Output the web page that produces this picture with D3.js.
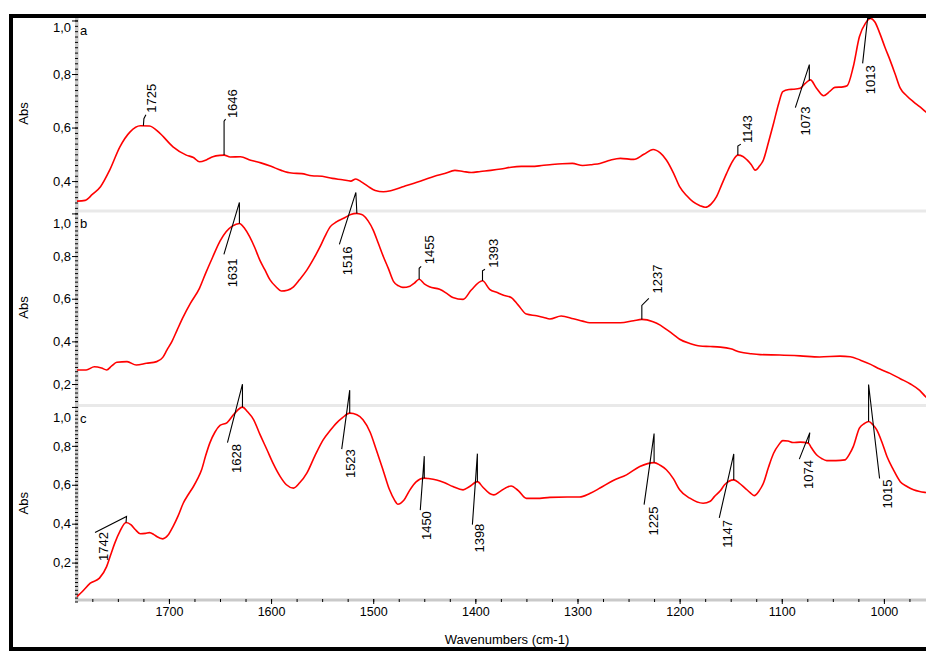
<!DOCTYPE html>
<html>
<head>
<meta charset="utf-8">
<script src="https://cdn.jsdelivr.net/npm/d3@7"></script>
<style>
body { margin: 0; background: #fff; }
svg { display: block; font-family: "Liberation Sans", Arial, sans-serif; }
</style>
</head>
<body>
<svg id="chart" width="926" height="652"></svg>
<script>
// spectrum a
const wnA = [1790,1782,1775,1767,1758,1748,1738,1728,1719,1709,1696,1683,1676,1670,1663,1657,1650,1646,1640,1630,
  1620,1610,1600,1590,1580,1570,1560,1550,1540,1530,1522,1517,1512,1505,1498,1490,1482,1470,1460,1450,
  1440,1430,1420,1412,1404,1395,1385,1375,1365,1355,1345,1335,1325,1315,1305,1295,1285,1278,1268,1258,
  1245,1235,1226,1219,1213,1206,1200,1193,1187,1180,1175,1169,1164,1159,1154,1148,1143,1138,1134,1130,
  1126,1122,1118,1113,1108,1103,1099,1093,1089,1082,1077,1072,1066,1059,1053,1048,1040,1036,1030,1024,
  1018,1013,1009,1004,999,994,989,984,978,971,965,959,950]
const absA = [0.325,0.328,0.350,0.379,0.441,0.528,0.584,0.607,0.606,0.579,0.528,0.497,0.488,0.472,0.480,0.491,0.496,0.497,0.490,0.491,
  0.478,0.468,0.455,0.440,0.430,0.428,0.420,0.418,0.410,0.405,0.400,0.408,0.398,0.380,0.365,0.360,0.365,0.380,0.392,0.405,
  0.418,0.428,0.440,0.436,0.432,0.436,0.440,0.445,0.452,0.455,0.455,0.458,0.462,0.465,0.466,0.458,0.462,0.466,0.478,0.485,
  0.481,0.500,0.518,0.505,0.479,0.430,0.379,0.345,0.323,0.308,0.302,0.315,0.341,0.385,0.429,0.475,0.497,0.492,0.479,0.462,
  0.441,0.455,0.479,0.545,0.616,0.690,0.734,0.742,0.743,0.747,0.765,0.778,0.747,0.719,0.735,0.750,0.752,0.756,0.827,0.939,
  0.990,1.008,0.995,0.952,0.900,0.852,0.800,0.747,0.720,0.696,0.678,0.659,0.640]

// spectrum b
const wnB = [1790,1781,1773,1766,1761,1756,1751,1741,1732,1722,1712,1706,1702,1697,1692,1686,1679,1670,1664,1657,
  1650,1644,1638,1631,1626,1621,1616,1611,1606,1601,1595,1590,1584,1578,1572,1565,1558,1552,1547,1542,
  1536,1529,1522,1516,1514,1510,1505,1500,1495,1490,1485,1480,1475,1471,1464,1460,1455,1450,1445,1435,
  1428,1422,1412,1404,1393,1386,1378,1373,1365,1358,1350,1340,1333,1327,1316,1304,1295,1288,1270,1258,
  1245,1237,1226,1219,1213,1206,1200,1190,1180,1170,1160,1150,1141,1130,1121,1102,1082,1063,1043,1033,
  1023,1013,1004,994,984,974,965,959,950]
const absB = [0.266,0.266,0.281,0.275,0.266,0.285,0.302,0.305,0.289,0.297,0.305,0.325,0.359,0.400,0.453,0.515,0.578,0.650,0.720,0.797,
  0.870,0.914,0.940,0.953,0.930,0.891,0.840,0.781,0.735,0.688,0.655,0.636,0.640,0.656,0.690,0.734,0.790,0.844,0.895,0.938,
  0.960,0.977,0.995,1.000,0.998,0.992,0.965,0.922,0.860,0.797,0.740,0.680,0.660,0.653,0.659,0.672,0.691,0.670,0.656,0.644,
  0.625,0.606,0.597,0.641,0.684,0.644,0.628,0.617,0.606,0.570,0.528,0.520,0.512,0.505,0.519,0.506,0.495,0.487,0.487,0.487,
  0.497,0.503,0.492,0.476,0.456,0.432,0.410,0.390,0.378,0.376,0.373,0.365,0.350,0.342,0.338,0.336,0.332,0.327,0.331,0.328,
  0.312,0.292,0.270,0.250,0.225,0.200,0.170,0.140,0.120]

// spectrum c
const wnC = [1790,1785,1777,1768,1761,1757,1753,1748,1742,1737,1733,1728,1723,1719,1715,1712,1706,1701,1696,1691,
  1686,1681,1676,1672,1668,1664,1660,1655,1650,1643,1636,1628,1623,1617,1611,1604,1598,1591,1585,1578,
  1572,1565,1557,1549,1542,1536,1530,1523,1516,1510,1503,1497,1490,1484,1479,1476,1470,1464,1458,1450,
  1446,1438,1430,1422,1412,1406,1398,1393,1386,1382,1376,1370,1365,1358,1350,1340,1327,1310,1298,1288,
  1278,1265,1252,1239,1225,1219,1213,1206,1200,1190,1177,1170,1166,1160,1156,1147,1142,1136,1131,1127,
  1122,1118,1113,1108,1103,1099,1094,1089,1082,1074,1071,1066,1061,1056,1047,1038,1034,1030,1024,1019,
  1015,1011,1007,1002,997,991,984,977,971,965,959,950]
const absC = [0.025,0.050,0.094,0.120,0.179,0.240,0.300,0.360,0.406,0.394,0.370,0.348,0.350,0.354,0.345,0.334,0.322,0.340,0.385,0.440,
  0.505,0.550,0.591,0.630,0.677,0.750,0.814,0.870,0.905,0.920,0.965,0.999,0.975,0.934,0.860,0.780,0.710,0.642,0.600,0.583,
  0.610,0.660,0.750,0.831,0.880,0.917,0.945,0.968,0.960,0.934,0.870,0.780,0.670,0.574,0.520,0.500,0.520,0.574,0.615,0.634,
  0.632,0.625,0.610,0.591,0.574,0.590,0.616,0.590,0.555,0.548,0.565,0.585,0.594,0.570,0.530,0.530,0.535,0.537,0.537,0.555,
  0.583,0.622,0.651,0.694,0.714,0.700,0.677,0.630,0.574,0.531,0.505,0.515,0.539,0.570,0.600,0.625,0.610,0.583,0.560,0.544,
  0.570,0.608,0.690,0.762,0.805,0.827,0.825,0.817,0.819,0.814,0.790,0.754,0.735,0.724,0.724,0.728,0.755,0.796,0.891,0.915,
  0.925,0.910,0.882,0.820,0.745,0.680,0.616,0.590,0.574,0.565,0.560,0.555]

// axis ticks
const xTicks = [1700, 1600, 1500, 1400, 1300, 1200, 1100, 1000]
const yTicks = [0.2, 0.4, 0.6, 0.8, 1.0]

// peak labels
const peakA = [1725, 1646, 1143, 1073, 1013]
const peakB = [1631, 1516, 1455, 1393, 1237]
const peakC = [1742, 1628, 1523, 1450, 1398, 1225, 1147, 1074, 1015]

// leader layout for each peak label: apex, tail, text point (px from the peak), text anchor
const leader = {
  1725: [[0.5, -7], [2.5, -11], [8.5, -13], 'start'],
  1646: [[0, -34], [1.5, -36], [8, -37], 'start'],
  1143: [[0, -9], [3, -11], [10, -12], 'start'],
  1073: [[0, -16], [-14, 27], [-4, 26], 'end'],
  1013: [[-3, 0], [-8, 45], [0, 47], 'end'],
  1631: [[0, -21], [-15.5, 31], [-6.5, 35], 'end'],
  1516: [[-1, -21], [-17.5, 31], [-9, 33], 'end'],
  1455: [[0, -11], [2, -13], [10, -15], 'start'],
  1393: [[0, -10], [2.5, -11.5], [11, -13], 'start'],
  1237: [[0, -14], [7, -21], [16, -26], 'start'],
  1742: [[0.5, -6], [-31, 10], [-23, 9.5], 'end'],
  1628: [[0, -23], [-15, 35.5], [-6.5, 37], 'end'],
  1523: [[0, -23], [-8, 36], [1, 36], 'end'],
  1450: [[0, -22], [-4, 32], [2, 33], 'end'],
  1398: [[0, -28], [-5, 43], [2, 42], 'end'],
  1225: [[0, -29], [-10, 42], [-1, 44], 'end'],
  1147: [[0, -26], [-14.5, 38], [-6, 40], 'end'],
  1074: [[1.5, -10.5], [-9, 16], [0, 17], 'end'],
  1015: [[0, -37], [11, 57], [19, 58], 'end']
}

const svg = d3.select('#chart')
const fmt = v => d3.format('.1f')(v).replace('.', ',')

let x = d3.scaleLinear()
  .domain([1790, 950])
  .range([77, 77 + 840 * 1.0214])

const panels = [
  { name: 'a', wn: wnA, abs: absA, peaks: peakA, domain: [0.292, 1.013], top: 17, bottom: 210, shift: 7 },
  { name: 'b', wn: wnB, abs: absB, peaks: peakB, domain: [0.1016, 1.016], top: 210, bottom: 405, shift: 10 },
  { name: 'c', wn: wnC, abs: absC, peaks: peakC, domain: [0, 1.01], top: 405, bottom: 601.5, shift: 10 }
]

// separators between the panels
svg.selectAll('rect.sep')
  .data([209.5, 404])
  .enter()
  .append('rect')
  .attr('class', 'sep')
  .attr('x', 77)
  .attr('y', d => d)
  .attr('width', 926 - 77)
  .attr('height', 3)
  .attr('fill', '#e9e9e9')

// gray axis bands
svg.append('rect')
  .attr('x', 75).attr('y', 17).attr('width', 3.5).attr('height', 601.5 - 17)
  .attr('fill', '#c9c9c9')
svg.append('rect')
  .attr('x', 75).attr('y', 598.5).attr('width', 926 - 75).attr('height', 3)
  .attr('fill', '#c9c9c9')

// value at a wavenumber
const valueAt = (wn, abs, w) => {
  for (let i = 0; i < wn.length - 1; i++) {
    if (w <= wn[i] && w >= wn[i + 1]) {
      let t = (wn[i] - w) / (wn[i] - wn[i + 1])
      return abs[i] + t * (abs[i + 1] - abs[i])
    }
  }
  return abs[abs.length - 1]
}

panels.forEach(p => {
  let y = d3.scaleLinear().domain(p.domain).range([p.bottom, p.top])
  let pts = p.wn.map((w, i) => [w, p.abs[i]])

  let line = d3.line()
    .x(d => x(d[0]))
    .y(d => y(d[1]))
    .curve(d3.curveMonotoneX)

  svg.append('path')
    .datum(pts)
    .attr('d', line)
    .attr('fill', 'none')
    .attr('stroke', '#ff0000')
    .attr('stroke-width', 1.6)

  // minor y ticks every 0.02
  let minor = d3.range(Math.ceil(p.domain[0] * 50), Math.floor(p.domain[1] * 50) + 1).map(k => k / 50)
  let gMinor = svg.append('g')
    .attr('transform', 'translate(78,0)')
    .call(d3.axisLeft(y).tickValues(minor).tickSize(3).tickFormat(''))
  gMinor.select('.domain').remove()
  gMinor.selectAll('line').attr('stroke', '#000')

  let majors = yTicks.filter(v => v >= p.domain[0] && v <= p.domain[1])
  let gMajor = svg.append('g')
    .attr('transform', 'translate(78,0)')
    .call(d3.axisLeft(y).tickValues(majors).tickSize(6).tickPadding(1).tickFormat(fmt))
  gMajor.select('.domain').remove()
  gMajor.selectAll('line').attr('stroke', '#000')
  gMajor.selectAll('text')
    .attr('font-size', 13)
    .attr('font-family', '"Liberation Sans", Arial, sans-serif')
    .attr('fill', '#000')
    .attr('y', d => d === 1.0 ? p.shift : 0)

  // panel letter
  svg.append('text')
    .attr('x', 80)
    .attr('y', p.top + 17.5)
    .attr('font-size', 13)
    .text(p.name)

  // Abs label
  svg.append('text')
    .attr('transform', `translate(23,${(p.top + p.bottom) / 2}) rotate(-90)`)
    .attr('text-anchor', 'middle')
    .attr('dy', '0.35em')
    .attr('font-size', 13)
    .text('Abs')

  // peak labels with leader lines
  p.peaks.forEach(w => {
    let px = x(w)
    let py = y(valueAt(p.wn, p.abs, w))
    let [a, t, l, anchor] = leader[w]
    svg.append('path')
      .attr('d', `M${px},${py}L${px + a[0]},${py + a[1]}L${px + t[0]},${py + t[1]}`)
      .attr('fill', 'none')
      .attr('stroke', '#000')
      .attr('stroke-width', 1.1)
    svg.append('text')
      .attr('transform', `translate(${px + l[0]},${py + l[1]}) rotate(-90)`)
      .attr('text-anchor', anchor)
      .attr('dy', '0.35em')
      .attr('font-size', 13)
      .text(w)
  })
})

// x axis
let gxMinor = svg.append('g')
  .attr('transform', 'translate(0,599)')
  .call(d3.axisBottom(x).tickValues(d3.range(1775, 949, -25)).tickSize(3).tickFormat(''))
gxMinor.select('.domain').remove()
gxMinor.selectAll('line').attr('stroke', '#000')

let gx = svg.append('g')
  .attr('transform', 'translate(0,599)')
  .call(d3.axisBottom(x).tickValues(xTicks).tickSize(5).tickPadding(3).tickFormat(d3.format('d')))
gx.select('.domain').remove()
gx.selectAll('line').attr('stroke', '#000')
gx.selectAll('text')
  .attr('font-size', 12.5)
  .attr('font-family', '"Liberation Sans", Arial, sans-serif')
  .attr('fill', '#000')

svg.append('text')
  .attr('x', 507)
  .attr('y', 643.5)
  .attr('text-anchor', 'middle')
  .attr('font-size', 13)
  .text('Wavenumbers (cm-1)')

// outer frame
svg.append('rect')
  .attr('x', 11)
  .attr('y', 16)
  .attr('width', 1000)
  .attr('height', 633)
  .attr('fill', 'none')
  .attr('stroke', '#000')
  .attr('stroke-width', 4)
</script>
</body>
</html>
